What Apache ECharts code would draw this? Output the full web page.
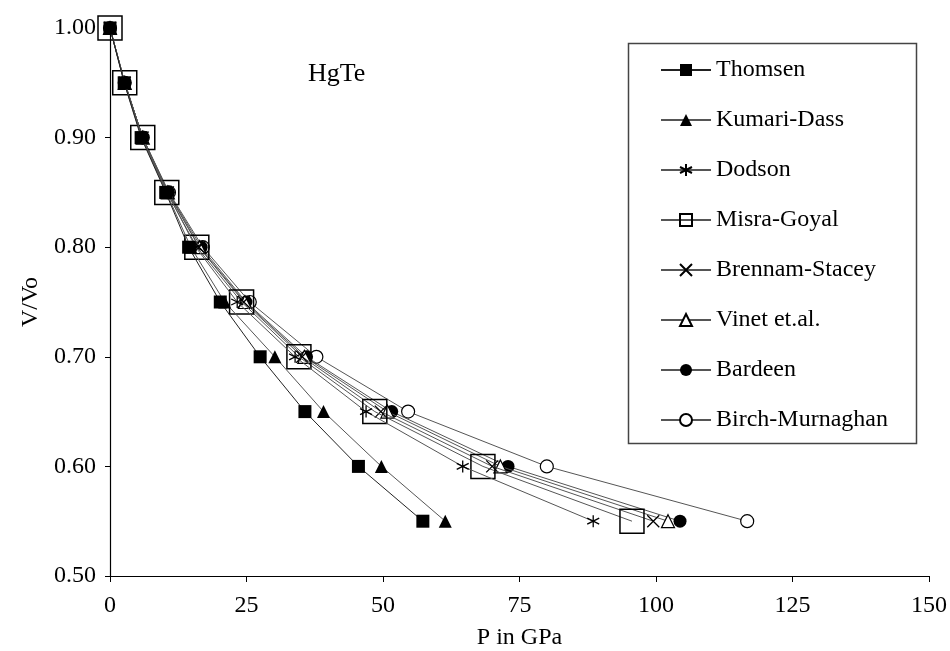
<!DOCTYPE html>
<html>
<head>
<meta charset="utf-8">
<script src="https://cdn.jsdelivr.net/npm/echarts@6/dist/echarts.min.js"></script>
<style>
  html, body { margin: 0; padding: 0; background: #fff; }
  #chartMain { width: 950px; height: 651px; }
</style>
</head>
<body>
<div id="chartMain"></div>
<script>
// V/Vo values, same for every model
var vRatio = [1.00, 0.95, 0.90, 0.85, 0.80, 0.75, 0.70, 0.65, 0.60, 0.55];

// pressure (GPa) for each model
var thomsen        = [0, 2.6, 5.7, 10.2, 14.4, 20.2, 27.5, 35.7, 45.5, 57.3];
var kumariDass     = [0, 2.6, 5.8, 10.3, 14.8, 21.0, 30.2, 39.1, 49.7, 61.4];
var dodson         = [0, 2.7, 5.9, 10.5, 15.7, 23.3, 33.9, 46.9, 64.6, 88.5];
var misraGoyal     = [0, 2.7, 6.0, 10.4, 15.9, 24.1, 34.6, 48.5, 68.3, 95.6];
var brennamStacey  = [0, 2.7, 6.0, 10.6, 16.3, 24.5, 35.2, 49.6, 70.0, 99.5];
var vinet          = [0, 2.7, 6.0, 10.6, 16.4, 24.7, 35.6, 50.8, 71.5, 102.2];
var bardeen        = [0, 2.7, 6.0, 10.7, 16.7, 24.9, 36.0, 51.6, 72.9, 104.4];
var birchMurnaghan = [0, 2.7, 6.0, 10.8, 17.0, 25.6, 37.8, 54.6, 80.0, 116.7];

var xTicks = [0, 25, 50, 75, 100, 125, 150];
var yTicks = [0.50, 0.60, 0.70, 0.80, 0.90, 1.00];

var FONT = '"Liberation Serif", "Times New Roman", serif';

// asterisk and cross drawn as stroked paths
var asteriskPath = 'path://M5,0L5,10M0.7,2.5L9.3,7.5M9.3,2.5L0.7,7.5';
var crossPath = 'path://M0,0L10,10M10,0L0,10';

function pairs(xs) {
    var out = [];
    for (var i = 0; i < xs.length; i++) {
        out.push([xs[i], vRatio[i]]);
    }
    return out;
}

function makeSeries(name, xs, symbol, size, fill, border, z) {
    return {
        name: name,
        type: 'line',
        data: pairs(xs),
        symbol: symbol,
        symbolSize: size,
        showAllSymbol: true,
        lineStyle: { color: '#555', width: 1 },
        itemStyle: {
            color: fill,
            borderColor: '#000',
            borderWidth: border
        },
        emphasis: { disabled: true },
        animation: false,
        z: z
    };
}

// first series on top, like the original
var series = [
    makeSeries('Thomsen', thomsen, 'rect', 13, '#000', 0, 10),
    makeSeries('Kumari-Dass', kumariDass, 'triangle', 13, '#000', 0, 9),
    makeSeries('Dodson', dodson, asteriskPath, 12, 'none', 1.3, 8),
    makeSeries('Misra-Goyal', misraGoyal, 'rect', 24, 'rgba(255,255,255,0)', 1.5, 7),
    makeSeries('Brennam-Stacey', brennamStacey, crossPath, 12, 'none', 1.3, 6),
    makeSeries('Vinet et.al.', vinet, 'triangle', 13, '#fff', 1.2, 5),
    makeSeries('Bardeen', bardeen, 'circle', 13, '#000', 0, 4),
    makeSeries('Birch-Murnaghan', birchMurnaghan, 'circle', 13, '#fff', 1.2, 3)
];
series[0].lineStyle.color = '#222';

var option = {
    backgroundColor: '#fff',
    title: {
        text: 'HgTe',
        left: 303,
        top: 56,
        textStyle: { fontFamily: FONT, fontSize: 26, fontWeight: 'normal', color: '#000' }
    },
    legend: {
        orient: 'vertical',
        left: 655,
        top: 53,
        itemWidth: 50,
        itemHeight: 15,
        itemGap: 26,
        textStyle: { fontFamily: FONT, fontSize: 24, color: '#000' },
        data: series.map(function (s) { return s.name; })
    },
    graphic: [{
        type: 'rect',
        left: 626,
        top: 41,
        shape: { width: 288, height: 400 },
        style: { fill: 'none', stroke: '#444', lineWidth: 1.5 },
        z: -1
    }],
    grid: { left: 110, right: 21, top: 28, bottom: 75, outerBoundsMode: 'none' },
    xAxis: {
        type: 'value',
        min: xTicks[0],
        max: xTicks[xTicks.length - 1],
        interval: 25,
        name: 'P in GPa',
        nameLocation: 'middle',
        nameGap: 50,
        nameTextStyle: { fontFamily: FONT, fontSize: 24, color: '#000' },
        axisLine: { show: true, onZero: false, lineStyle: { color: '#000', width: 1.2 } },
        axisTick: { show: true, length: 6, lineStyle: { color: '#000' } },
        axisLabel: { margin: 18, fontFamily: FONT, fontSize: 24, color: '#000' },
        splitLine: { show: false }
    },
    yAxis: {
        type: 'value',
        min: yTicks[0],
        max: yTicks[yTicks.length - 1],
        interval: 0.1,
        name: 'V/Vo',
        nameLocation: 'middle',
        nameGap: 66,
        nameTextStyle: { fontFamily: FONT, fontSize: 24, color: '#000' },
        axisLine: { show: true, onZero: false, lineStyle: { color: '#000', width: 1.2 } },
        axisTick: { show: true, length: 5, lineStyle: { color: '#000' } },
        axisLabel: {
            margin: 14,
            fontFamily: FONT,
            fontSize: 24,
            color: '#000',
            formatter: function (v) { return v.toFixed(2); }
        },
        splitLine: { show: false }
    },
    series: series
};

var mychart = echarts.init(document.getElementById('chartMain'));
mychart.setOption(option);
</script>
</body>
</html>
